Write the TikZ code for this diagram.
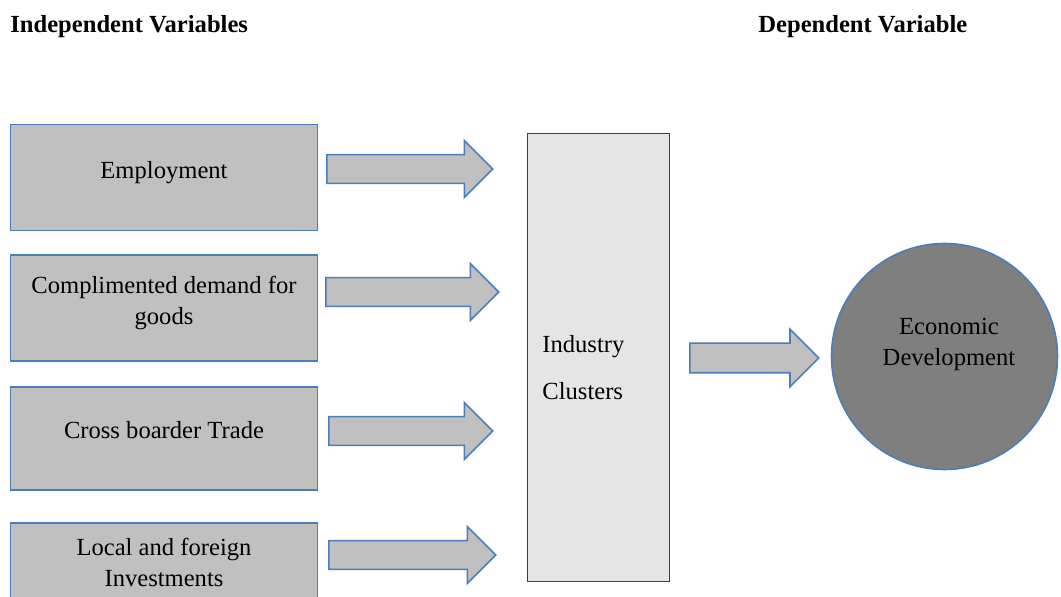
\documentclass[tikz,border=0pt]{standalone}
\usepackage{fontspec}
\setmainfont{Liberation Serif}
\usetikzlibrary{shapes.arrows,positioning}
\definecolor{boxblue}{HTML}{4A7EBB}
\definecolor{boxgray}{HTML}{C0C0C0}
\definecolor{circgray}{HTML}{7F7F7F}
\tikzstyle{varbox}=[draw=boxblue,fill=boxgray,line width=.8pt,minimum width=153.5pt,minimum height=53pt,inner sep=0pt]
\tikzstyle{vartext}=[font=\fontsize{12.3}{15.5}\selectfont,align=center,anchor=base,inner sep=0pt]
\tikzstyle{heading}=[font=\fontsize{12.3}{15}\selectfont\bfseries,anchor=base west,inner sep=0pt]
\tikzstyle{blockarrow}=[single arrow,draw=boxblue,fill=boxgray,line width=.8pt,inner xsep=0pt,inner ysep=6.75pt,minimum width=28.5pt,single arrow head extend=7pt,anchor=tail]
\tikzstyle{clusterbox}=[draw=black!75,fill=gray!20,line width=.5pt,minimum width=71pt,minimum height=224pt,inner sep=0pt]
\tikzstyle{outcome}=[circle,draw=boxblue,fill=circgray,line width=.8pt,minimum size=113pt,inner sep=0pt]

\begin{document}
\begin{tikzpicture}[x=0.5pt,y=-0.5pt]

    \useasboundingbox (0,0) rectangle (1061,597);
    \clip (0,0) rectangle (1061,597);

    \node[heading] (indep) at (10,33) {Independent Variables};
    \node[heading] (dep) at (758,33) {Dependent Variable};

    % independent variables
    \node[varbox] (employment) at (164,177.5) {};
    \node[varbox] (demand) at (164,308) {};
    \node[varbox,minimum height=51.5pt] (trade) at (164,438.5) {};
    \node[varbox] (investments) at (164,576) {};

    % multi-line texts sit on the baseline of their last line
    \node[vartext] (employmenttext) at (164,179) {Employment};
    \node[vartext] (demandtext) at (164,325) {Complimented demand for\\ goods};
    \node[vartext] (tradetext) at (164,439) {Cross boarder Trade};
    \node[vartext] (investmentstext) at (164,587) {Local and foreign\\ Investments};

    \node[blockarrow,minimum height=83pt] (arrow1) at (326,169) {};
    \node[blockarrow,minimum height=86.5pt] (arrow2) at (325,292) {};
    \node[blockarrow,minimum height=82pt] (arrow3) at (328,431) {};
    \node[blockarrow,minimum height=83.5pt] (arrow4) at (328,555) {};

    % industry clusters
    \node[clusterbox] (clusters) at (598,358) {};
    \node[vartext,align=left,anchor=base west] (clusterstext) at (542,400) {Industry\\[8pt] Clusters};

    \node[blockarrow,minimum height=64.5pt,inner ysep=7pt,minimum width=28pt] (arrow5) at (689,358) {};

    % dependent variable
    \node[outcome] (development) at (944.5,356.5) {};
    \node[vartext] (developmenttext) at (949,366) {Economic\\ Development};

\end{tikzpicture}
\end{document}
